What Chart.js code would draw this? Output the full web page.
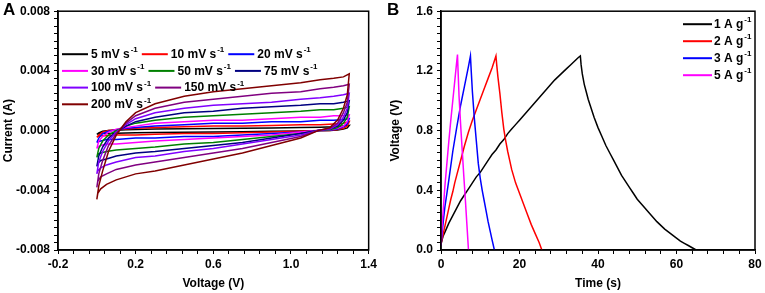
<!DOCTYPE html>
<html><head><meta charset="utf-8">
<script src="https://cdn.jsdelivr.net/npm/chart.js@4.4.1/dist/chart.umd.min.js"></script>
<style>
html,body{margin:0;padding:0;background:#fff;}
#wrap{position:relative;width:765px;height:293px;overflow:hidden;background:#fff}
#ca{position:absolute;left:0;top:0}
#cb{position:absolute;left:380px;top:0}
</style></head><body>
<div id="wrap">
<canvas id="ca" width="380" height="293"></canvas>
<canvas id="cb" width="385" height="293"></canvas>
</div>
<script>
// ---------- Panel A: cyclic voltammetry ----------
const cvRates = ['5', '10', '20', '30', '50', '75', '100', '150', '200'];
const cvColors = ['#000000', '#ff0000', '#0000ff', '#ff00ff', '#008000', '#000080', '#8000ff', '#800080', '#800000'];
// potential sweep 0 -> 1.3 V -> 0
const cvVoltage = [0, 0.01, 0.03, 0.06, 0.1, 0.15, 0.2, 0.3, 0.45, 0.6, 0.75, 0.9, 1.05, 1.15, 1.22, 1.27, 1.3,
                   1.29, 1.27, 1.24, 1.2, 1.14, 1.05, 0.9, 0.75, 0.6, 0.45, 0.3, 0.2, 0.1, 0.05, 0.02, 0.005, 0];
const cv5 = [-0.00025, -0.00015, -0.00005, 0.0, 0.00003, 0.00005, 0.00007, 0.0001, 0.00012, 0.00014, 0.00016, 0.00018, 0.0002, 0.00022, 0.00025, 0.0003, 0.00035,
             0.00018, 0.0001, 0.00004, 0.0, -0.00001, -0.00003, -0.00005, -0.00007, -0.00009, -0.00011, -0.00013, -0.00015, -0.00017, -0.00019, -0.0002, -0.00022, -0.00025];
const cv10 = [-0.00045, -0.0003, -0.0001, 0.0, 0.00005, 0.0001, 0.00015, 0.0002, 0.00025, 0.0003, 0.0003, 0.00035, 0.0004, 0.0004, 0.00045, 0.0005, 0.0006,
              0.0003, 0.00015, 0.00007, 0.0, 0.0, -0.00005, -0.0001, -0.00015, -0.0002, -0.0002, -0.00025, -0.0003, -0.0003, -0.00035, -0.00035, -0.0004, -0.00045];
const cv20 = [-0.0008, -0.0005, -0.0002, -0.00005, 0.00005, 0.00015, 0.0002, 0.0003, 0.0004, 0.0005, 0.0005, 0.0006, 0.0006, 0.0007, 0.0007, 0.00075, 0.0008,
              0.00045, 0.00025, 0.0001, 0.00003, 0.0, -0.0001, -0.0002, -0.0003, -0.0004, -0.0004, -0.0005, -0.0005, -0.0006, -0.0006, -0.0007, -0.00075, -0.0008];
const cv30 = [-0.0012, -0.0007, -0.0004, -0.0001, 0.0001, 0.0002, 0.0003, 0.0005, 0.0006, 0.0007, 0.0007, 0.0008, 0.0009, 0.0009, 0.001, 0.001, 0.00105,
              0.0006, 0.0003, 0.00015, 0.00005, 0.0, -0.0001, -0.0003, -0.0004, -0.0005, -0.0006, -0.0007, -0.0008, -0.0009, -0.0009, -0.001, -0.0011, -0.0012];
const cv50 = [-0.0018, -0.0012, -0.0007, -0.0003, 0.0, 0.0003, 0.0005, 0.0007, 0.0009, 0.001, 0.0011, 0.0012, 0.0013, 0.0014, 0.0014, 0.0015, 0.0016,
              0.0009, 0.0005, 0.0002, 0.00005, 0.0, -0.0002, -0.0004, -0.0006, -0.0008, -0.0009, -0.0011, -0.0012, -0.0013, -0.0014, -0.0015, -0.0016, -0.0018];
const cv75 = [-0.0024, -0.0017, -0.0011, -0.0005, -0.0001, 0.0003, 0.0006, 0.0009, 0.0012, 0.0013, 0.0015, 0.0016, 0.0017, 0.0018, 0.0018, 0.0019, 0.002,
              0.0012, 0.0007, 0.0003, 0.0001, 0.0, -0.0002, -0.0005, -0.0008, -0.001, -0.0012, -0.0014, -0.0015, -0.0017, -0.0019, -0.002, -0.0022, -0.0024];
const cv100 = [-0.0029, -0.0021, -0.0014, -0.0007, -0.0001, 0.0004, 0.0008, 0.0012, 0.0015, 0.0017, 0.0018, 0.0019, 0.0021, 0.0022, 0.0023, 0.0024, 0.0025,
               0.0015, 0.0009, 0.0004, 0.0001, 0.0, -0.0003, -0.0006, -0.0009, -0.0012, -0.0014, -0.0017, -0.0018, -0.0021, -0.0023, -0.0025, -0.0027, -0.0029];
const cv150 = [-0.0038, -0.0029, -0.002, -0.001, -0.0002, 0.0005, 0.001, 0.0015, 0.0019, 0.0021, 0.0023, 0.0025, 0.0026, 0.0028, 0.0029, 0.003, 0.0031,
               0.0019, 0.0012, 0.0005, 0.00015, 0.0, -0.0004, -0.0008, -0.0012, -0.0015, -0.0018, -0.0021, -0.0023, -0.0026, -0.0029, -0.0031, -0.0034, -0.0038];
const cv200 = [-0.0046, -0.0037, -0.0027, -0.0014, -0.0003, 0.0006, 0.0012, 0.0018, 0.0023, 0.0026, 0.0028, 0.003, 0.0032, 0.0034, 0.0035, 0.0036, 0.0038,
               0.0024, 0.0015, 0.0007, 0.0002, 0.0, -0.0005, -0.001, -0.0015, -0.0019, -0.0023, -0.0027, -0.0029, -0.0033, -0.0036, -0.0039, -0.0042, -0.0046];
const cvCurrents = [cv5, cv10, cv20, cv30, cv50, cv75, cv100, cv150, cv200];
const cvXTicks = [-0.2, 0.2, 0.6, 1.0, 1.4];
const cvYTicks = [-0.008, -0.004, 0.0, 0.004, 0.008];

// ---------- Panel B: galvanostatic charge-discharge ----------
const gcdLabels = ['1', '2', '3', '5'];
const gcdColors = ['#000000', '#ff0000', '#0000ff', '#ff00ff'];
const gcdTime1 = [0, 0.5, 1, 1.5, 2, 3, 4, 5, 6, 7, 8, 9, 10, 11, 12, 13, 14, 15, 16, 17, 18, 19, 20, 21, 22, 23, 24, 25, 26, 27, 28, 29, 30, 31, 32, 33, 34, 35, 35.5,
                  35.7, 36, 36.5, 37, 37.5, 38, 39, 40, 41, 42, 43, 44, 45, 46, 47, 48, 49, 50, 51, 52, 53, 54, 55, 56, 57, 58, 59, 60, 61, 62, 63, 64, 65];
const gcdVolt1 = [0.04, 0.09, 0.12, 0.15, 0.18, 0.23, 0.28, 0.33, 0.37, 0.41, 0.45, 0.49, 0.52, 0.56, 0.60, 0.64, 0.67, 0.71, 0.74, 0.78, 0.81, 0.84, 0.87, 0.90, 0.93, 0.96, 0.99, 1.02, 1.05, 1.08, 1.11, 1.14, 1.165, 1.19, 1.215, 1.24, 1.265, 1.29, 1.30,
                  1.24, 1.18, 1.11, 1.06, 1.01, 0.97, 0.89, 0.82, 0.76, 0.70, 0.65, 0.60, 0.55, 0.50, 0.46, 0.42, 0.38, 0.34, 0.31, 0.28, 0.25, 0.22, 0.19, 0.165, 0.14, 0.12, 0.10, 0.08, 0.06, 0.045, 0.03, 0.015, 0.0];
const gcdTime2 = [0, 0.5, 1, 1.5, 2, 2.5, 3, 3.5, 4, 5, 6, 7, 8, 9, 10, 11, 12, 13, 14,
                  14.2, 14.5, 15, 15.5, 16, 16.5, 17, 17.5, 18, 19, 20, 21, 22, 23, 24, 25, 25.7];
const gcdVolt2 = [0.04, 0.10, 0.16, 0.22, 0.28, 0.34, 0.39, 0.45, 0.50, 0.60, 0.70, 0.79, 0.87, 0.94, 1.01, 1.08, 1.15, 1.22, 1.30,
                  1.24, 1.16, 1.05, 0.92, 0.81, 0.73, 0.66, 0.60, 0.54, 0.45, 0.38, 0.31, 0.24, 0.17, 0.11, 0.05, 0.0];
const gcdTime3 = [0, 0.3, 0.7, 1, 1.5, 2, 3, 4, 5, 6, 7, 7.5,
                  7.7, 8, 8.5, 9, 9.5, 10, 10.5, 11, 11.5, 12, 12.5, 13, 13.6];
const gcdVolt3 = [0.03, 0.12, 0.22, 0.29, 0.38, 0.47, 0.66, 0.82, 0.97, 1.10, 1.23, 1.30,
                  1.20, 1.06, 0.88, 0.73, 0.58, 0.48, 0.40, 0.33, 0.26, 0.19, 0.13, 0.07, 0.0];
const gcdTime5 = [0, 0.3, 0.6, 1, 1.5, 2, 2.5, 3, 3.5, 4, 4.2,
                  4.35, 4.6, 5, 5.4, 5.8, 6.2, 6.6, 7.0];
const gcdVolt5 = [0.03, 0.17, 0.28, 0.43, 0.58, 0.73, 0.87, 1.00, 1.13, 1.26, 1.31,
                  1.20, 1.03, 0.84, 0.67, 0.50, 0.34, 0.17, 0.0];
const gcdTimes = [gcdTime1, gcdTime2, gcdTime3, gcdTime5];
const gcdVolts = [gcdVolt1, gcdVolt2, gcdVolt3, gcdVolt5];
const gcdXTicks = [0, 20, 40, 60, 80];
const gcdYTicks = [0.0, 0.4, 0.8, 1.2, 1.6];

// ---------- helpers ----------
const FONT = '"Liberation Sans", Arial, Helvetica, sans-serif';
Chart.defaults.font.family = FONT;
Chart.defaults.color = '#000';

function buildTicks(majors, sub) {
  const out = [];
  for (let i = 0; i < majors.length - 1; i++) {
    for (let j = 0; j < sub; j++) out.push({value: majors[i] + (majors[i + 1] - majors[i]) * j / sub});
  }
  out.push({value: majors[majors.length - 1]});
  return out;
}
function isMajor(v, majors) { return majors.some(m => Math.abs(m - v) < 1e-9); }

function axis(opts) {
  return {
    type: 'linear',
    min: opts.majors[0], max: opts.majors[opts.majors.length - 1],
    afterBuildTicks: s => { s.ticks = buildTicks(opts.majors, opts.sub); },
    afterFit: s => { if (opts.width) s.width = opts.width; if (opts.height) s.height = opts.height; },
    border: {display: true, color: '#000', width: 1.5},
    grid: {drawOnChartArea: false, drawTicks: true, tickLength: 4, tickWidth: 1, tickColor: '#000'},
    ticks: {
      autoSkip: false, maxRotation: 0, padding: opts.tickPad, color: '#000',
      font: {family: FONT, size: 12, weight: 'bold'},
      callback: v => isMajor(v, opts.majors) ? v.toFixed(opts.dec) : ''
    },
    title: {display: true, text: opts.title, color: '#000',
            font: {family: FONT, size: 12, weight: 'bold'}, padding: opts.titlePad}
  };
}

const framePlugin = {
  id: 'frame',
  afterDraw(chart, args, o) {
    const {ctx, chartArea: a} = chart;
    ctx.save();
    ctx.strokeStyle = '#000'; ctx.lineWidth = 1.5;
    ctx.strokeRect(a.left, a.top, a.right - a.left, a.bottom - a.top);
    ctx.fillStyle = '#000';
    ctx.font = 'bold 17px ' + FONT;
    ctx.textBaseline = 'alphabetic'; ctx.textAlign = 'left';
    ctx.fillText(o.letter, o.lx, 15);
    ctx.restore();
  }
};

const legendPlugin = {
  id: 'customLegend',
  afterDraw(chart, args, o) {
    const {ctx, chartArea: a} = chart;
    const ds = chart.data.datasets;
    ctx.save();
    o.rows.forEach((row, ri) => {
      let x = (o.fromRight ? a.right : a.left) + o.dx;
      const y = a.top + o.dy + ri * o.rowGap;
      row.forEach(i => {
        const d = ds[i];
        ctx.strokeStyle = d.borderColor; ctx.lineWidth = 2;
        ctx.beginPath(); ctx.moveTo(x, y); ctx.lineTo(x + o.lineLen, y); ctx.stroke();
        let tx = x + o.lineLen + o.textGap;
        ctx.fillStyle = '#000'; ctx.textBaseline = 'middle'; ctx.textAlign = 'left';
        ctx.font = 'bold 12px ' + FONT;
        ctx.fillText(d.labelMain, tx, y + 0.5);
        tx += ctx.measureText(d.labelMain).width + 1;
        ctx.font = 'bold 8px ' + FONT;
        ctx.fillText(d.labelSup, tx, y - 4);
        tx += ctx.measureText(d.labelSup).width;
        x = tx + o.itemGap;
      });
    });
    ctx.restore();
  }
};

// ---------- Chart A ----------
const cvDatasets = cvRates.map((r, i) => ({
  label: r + ' mV s-1',
  labelMain: r + ' mV s', labelSup: '-1',
  data: cvVoltage.map((v, k) => ({x: v, y: cvCurrents[i][k]})),
  borderColor: cvColors[i], backgroundColor: cvColors[i],
  borderWidth: 1.5, pointRadius: 0, tension: 0, fill: false,
  order: cvRates.length - i
}));

new Chart(document.getElementById('ca'), {
  type: 'line',
  data: {datasets: cvDatasets},
  options: {
    responsive: false, animation: false, devicePixelRatio: 1,
    layout: {padding: {left: 0, top: 7, right: 9, bottom: 0}},
    plugins: {
      legend: {display: false}, tooltip: {enabled: false},
      frame: {letter: 'A', lx: 3},
      customLegend: {rows: [[0, 1, 2], [3, 4, 5], [6, 7], [8]], fromRight: false, dx: 4, dy: 43, rowGap: 16.7,
                     lineLen: 26, textGap: 3, itemGap: 4}
    },
    scales: {
      x: axis({majors: cvXTicks, sub: 5, dec: 1, title: 'Voltage (V)', height: 43, tickPad: 3,
               titlePad: {top: 0, bottom: 2}}),
      y: axis({majors: cvYTicks, sub: 8, dec: 3, title: 'Current (A)', width: 58, tickPad: 4,
               titlePad: {top: 1, bottom: 0}})
    }
  },
  plugins: [framePlugin, legendPlugin]
});

// ---------- Chart B ----------
const gcdDatasets = gcdLabels.map((l, i) => ({
  label: l + ' A g-1',
  labelMain: l + ' A g', labelSup: '-1',
  data: gcdTimes[i].map((t, k) => ({x: t, y: gcdVolts[i][k]})),
  borderColor: gcdColors[i], backgroundColor: gcdColors[i],
  borderWidth: 1.5, pointRadius: 0, tension: 0, fill: false,
  order: gcdLabels.length - i
}));

new Chart(document.getElementById('cb'), {
  type: 'line',
  data: {datasets: gcdDatasets},
  options: {
    responsive: false, animation: false, devicePixelRatio: 1,
    layout: {padding: {left: 0, top: 7, right: 10, bottom: 0}},
    plugins: {
      legend: {display: false}, tooltip: {enabled: false},
      frame: {letter: 'B', lx: 7},
      customLegend: {rows: [[0], [1], [2], [3]], fromRight: true, dx: -72, dy: 13, rowGap: 17,
                     lineLen: 29, textGap: 2, itemGap: 4}
    },
    scales: {
      x: axis({majors: gcdXTicks, sub: 5, dec: 0, title: 'Time (s)', height: 43, tickPad: 3,
               titlePad: {top: 0, bottom: 2}}),
      y: axis({majors: gcdYTicks, sub: 8, dec: 1, title: 'Voltage (V)', width: 61, tickPad: 4,
               titlePad: {top: 8, bottom: 0}})
    }
  },
  plugins: [framePlugin, legendPlugin]
});
</script>
</body></html>
